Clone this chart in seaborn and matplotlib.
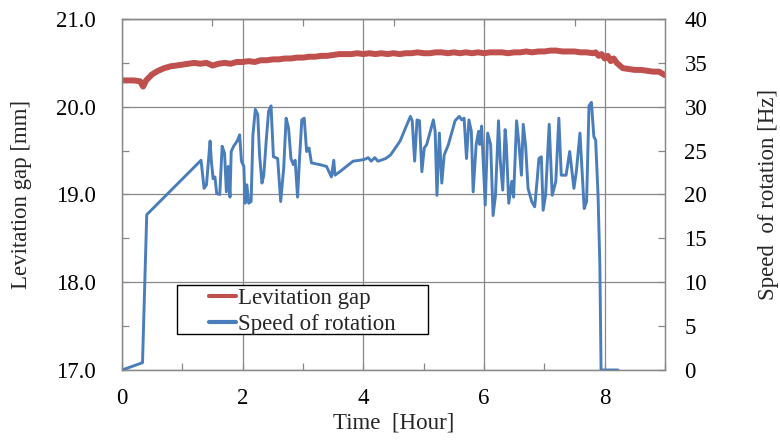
import numpy as np
import pandas as pd
import matplotlib
matplotlib.use("Agg")
import matplotlib.pyplot as plt
import seaborn as sns
from matplotlib.patches import Rectangle
from matplotlib.ticker import MultipleLocator, FormatStrFormatter

# ---------------- data ----------------
gap_time = [0.0, 0.1, 0.2, 0.3, 0.35, 0.4, 0.5, 0.6, 0.7, 0.8, 0.9, 1.0, 1.1, 1.2, 1.3, 1.4,
            1.5, 1.6, 1.7, 1.8, 1.9, 2.0, 2.1, 2.2, 2.3, 2.4, 2.5, 2.6, 2.7, 2.8, 2.9, 3.0,
            3.1, 3.2, 3.3, 3.4, 3.5, 3.6, 3.7, 3.8, 3.9, 4.0, 4.1, 4.2, 4.3, 4.4, 4.5, 4.6,
            4.7, 4.8, 4.9, 5.0, 5.1, 5.2, 5.3, 5.4, 5.5, 5.6, 5.7, 5.8, 5.9, 6.0, 6.1, 6.2,
            6.3, 6.4, 6.5, 6.6, 6.7, 6.8, 6.9, 7.0, 7.1, 7.2, 7.3, 7.4, 7.5, 7.6, 7.7, 7.8,
            7.85, 7.9, 7.95, 8.0, 8.05, 8.1, 8.15, 8.2, 8.25, 8.3, 8.4, 8.5, 8.6, 8.7, 8.8,
            8.9, 9.0]
gap_mm = [20.30, 20.30, 20.30, 20.29, 20.23, 20.30, 20.37, 20.41, 20.44, 20.46, 20.47, 20.48,
          20.49, 20.50, 20.49, 20.50, 20.47, 20.49, 20.50, 20.49, 20.51, 20.51, 20.52, 20.51,
          20.53, 20.53, 20.54, 20.54, 20.55, 20.55, 20.56, 20.56, 20.57, 20.57, 20.58, 20.58,
          20.59, 20.60, 20.60, 20.60, 20.61, 20.60, 20.61, 20.60, 20.61, 20.60, 20.61, 20.60,
          20.61, 20.61, 20.62, 20.61, 20.61, 20.62, 20.62, 20.61, 20.62, 20.61, 20.62, 20.61,
          20.62, 20.61, 20.62, 20.62, 20.62, 20.61, 20.62, 20.62, 20.63, 20.62, 20.63, 20.63,
          20.64, 20.64, 20.63, 20.63, 20.63, 20.62, 20.62, 20.61, 20.62, 20.58, 20.60, 20.55,
          20.58, 20.52, 20.55, 20.50, 20.47, 20.44, 20.43, 20.42, 20.42, 20.41, 20.40, 20.40,
          20.36]

speed_time = [0.0, 0.34, 0.41, 1.31, 1.36, 1.40, 1.46, 1.48, 1.51, 1.54, 1.57, 1.62, 1.66,
              1.70, 1.73, 1.76, 1.79, 1.81, 1.85, 1.91, 1.95, 1.98, 2.02, 2.04, 2.07, 2.10,
              2.14, 2.17, 2.21, 2.25, 2.28, 2.32, 2.35, 2.39, 2.43, 2.47, 2.51, 2.58, 2.63,
              2.68, 2.72, 2.76, 2.80, 2.84, 2.87, 2.91, 2.94, 2.98, 3.02, 3.06, 3.10, 3.14,
              3.28, 3.39, 3.47, 3.51, 3.53, 3.61, 3.72, 3.83, 3.94, 4.02, 4.08, 4.13, 4.19,
              4.24, 4.29, 4.37, 4.45, 4.53, 4.61, 4.70, 4.78, 4.81, 4.85, 4.89, 4.93, 4.97,
              5.01, 5.05, 5.11, 5.16, 5.19, 5.22, 5.26, 5.30, 5.34, 5.41, 5.48, 5.52, 5.56,
              5.59, 5.63, 5.67, 5.71, 5.75, 5.79, 5.82, 5.87, 5.91, 5.93, 5.96, 6.02, 6.06,
              6.11, 6.15, 6.19, 6.24, 6.27, 6.31, 6.35, 6.37, 6.41, 6.46, 6.49, 6.54, 6.58,
              6.62, 6.65, 6.69, 6.73, 6.79, 6.84, 6.88, 6.91, 6.95, 6.98, 7.02, 7.08, 7.13,
              7.19, 7.24, 7.28, 7.36, 7.42, 7.49, 7.53, 7.59, 7.66, 7.70, 7.74, 7.78, 7.82,
              7.85, 7.89, 7.92, 7.94, 8.22]
speed_hz = [0.0, 0.83, 17.7, 23.9, 20.7, 21.1, 26.1, 23.9, 21.8, 22.0, 20.1, 20.0, 25.5,
            24.7, 20.3, 23.2, 19.7, 24.9, 25.5, 26.1, 26.8, 23.8, 23.2, 19.0, 21.1, 19.0,
            19.2, 26.8, 29.7, 29.1, 24.5, 21.3, 22.2, 26.1, 29.5, 30.1, 24.3, 24.1, 19.2,
            23.0, 28.7, 27.6, 24.1, 23.4, 23.9, 19.7, 23.8, 28.5, 28.7, 24.9, 25.3, 23.6,
            23.4, 23.2, 22.0, 23.9, 22.2, 22.6, 23.2, 23.8, 23.9, 24.0, 24.2, 23.8, 24.2,
            23.8, 23.9, 24.1, 24.5, 25.3, 26.1, 27.6, 28.9, 28.4, 23.8, 28.5, 28.4, 22.6,
            25.3, 25.7, 27.2, 28.5, 27.2, 19.9, 27.0, 21.3, 24.5, 25.7, 27.4, 28.4, 28.7,
            28.9, 28.5, 28.7, 24.1, 28.5, 27.2, 20.3, 25.7, 27.2, 25.7, 27.8, 18.8, 27.0,
            25.7, 17.6, 19.9, 28.4, 23.8, 20.5, 27.4, 25.7, 19.0, 21.5, 19.7, 28.4, 25.7,
            22.2, 28.0, 25.5, 20.7, 19.2, 18.6, 21.6, 24.1, 24.3, 18.2, 19.9, 28.0, 19.9,
            21.5, 28.7, 22.2, 22.2, 24.9, 20.7, 22.6, 27.0, 18.4, 19.2, 30.1, 30.5, 26.6,
            26.2, 19.9, 11.9, 0.0, 0.0]

x_ticks = [0, 2, 4, 6, 8]
gap_ticks = [17.0, 18.0, 19.0, 20.0, 21.0]
speed_ticks = [0, 5, 10, 15, 20, 25, 30, 35, 40]

gap_df = pd.DataFrame({"Time": gap_time, "Gap": gap_mm})
speed_df = pd.DataFrame({"Time": speed_time, "Speed": speed_hz})

# ---------------- style ----------------
sns.set_theme(style="white")
plt.rcParams["font.family"] = ["Liberation Serif", "DejaVu Serif"]

RED = "#C0504D"
BLUE = "#4A7EBB"
GRAY = "#888888"
FS = 16.5

fig = plt.figure(figsize=(7.8, 4.43), dpi=100)
ax = fig.add_axes([0.1564, 0.1648, 0.6962, 0.7923])
ax2 = ax.twinx()

sns.lineplot(data=gap_df, x="Time", y="Gap", ax=ax, color=RED, lw=4.3,
             estimator=None, sort=False, label="Levitation gap", legend=False)
sns.lineplot(data=speed_df, x="Time", y="Speed", ax=ax2, color=BLUE, lw=2.1,
             estimator=None, sort=False, label="Speed of rotation", legend=False)

ax.set_xlim(0, 9)
ax.set_ylim(17.0, 21.0)
ax2.set_ylim(0, 40)

ax.set_xticks(x_ticks)
ax.xaxis.set_minor_locator(MultipleLocator(1))
ax.set_yticks(gap_ticks)
ax.yaxis.set_minor_locator(MultipleLocator(0.5))
ax.yaxis.set_major_formatter(FormatStrFormatter("%.1f"))
ax2.set_yticks(speed_ticks)

ax.grid(True, which="major", color=GRAY, lw=0.9)
ax2.grid(False)

for a in (ax, ax2):
    for s in a.spines.values():
        s.set_color(GRAY)
        s.set_linewidth(0.9)
        s.set_visible(True)

ax.tick_params(axis="both", which="both", direction="in", color=GRAY, width=0.9,
               length=5, labelsize=FS, labelcolor="black")
ax.tick_params(axis="y", which="both", left=True, right=False, pad=19)
ax.tick_params(axis="x", which="both", bottom=True, top=False, pad=13)
ax2.tick_params(axis="y", which="both", direction="in", color=GRAY, width=0.9,
                length=5, labelsize=FS, labelcolor="black", right=True, pad=14)

top = ax.secondary_xaxis("top")
top.set_xticks([1.5, 3.0, 4.5, 6.0, 7.5])
top.tick_params(direction="in", length=5, color=GRAY, width=0.9, labeltop=False)
top.spines["top"].set_color(GRAY)
top.spines["top"].set_linewidth(0.9)

ax.set_xlabel("Time  [Hour]", fontsize=FS)
ax.set_ylabel("Levitation gap [mm]", fontsize=FS)
ax2.set_ylabel("Speed  of rotation [Hz]", fontsize=FS)
ax.xaxis.set_label_coords(0.5, -0.12)
ax.yaxis.set_label_coords(-0.166, 0.5)
ax2.yaxis.set_label_coords(1.171, 0.5)

# legend box
rx0, ry0, rx1, ry1 = 0.101, 0.1026, 0.5635, 0.242
rect = Rectangle((rx0, ry0), rx1 - rx0, ry1 - ry0, transform=ax2.transAxes,
                 facecolor="white", edgecolor="black", lw=1.0, zorder=10)
ax2.add_patch(rect)
h1, l1 = ax.get_legend_handles_labels()
h2, l2 = ax2.get_legend_handles_labels()
leg = ax2.legend(h1 + h2, l1 + l2, loc="center",
                 bbox_to_anchor=((rx0 + rx1) / 2, (ry0 + ry1) / 2 - 0.006),
                 bbox_transform=ax2.transAxes, frameon=False, fontsize=FS,
                 handlelength=1.2, handletextpad=0.1, labelspacing=0.2,
                 borderpad=0.0)
leg.set_zorder(11)
for ln in leg.get_lines():
    ln.set_linewidth(3.0)

fig.savefig("out.png", dpi=100)
